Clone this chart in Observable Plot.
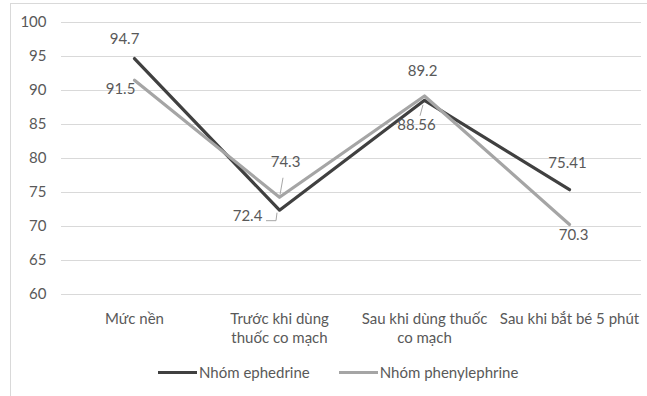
<!DOCTYPE html>
<html>
<head>
<meta charset="utf-8">
<script src="https://cdn.jsdelivr.net/npm/d3@7"></script>
<script src="https://cdn.jsdelivr.net/npm/@observablehq/plot@0.6"></script>
<style>
  html, body { margin: 0; padding: 0; background: #fff; }
  #wrap { position: relative; width: 647px; height: 396px; overflow: hidden; font-family: Lato, "Noto Sans", sans-serif; }
  #frame { position: absolute; left: 10px; top: 3px; right: -2px; bottom: -2px; border-top: 1.5px solid #d9d9d9; border-left: 1.5px solid #d9d9d9; }
  #chart { position: absolute; left: 0; top: 0; }
  #legend { position: absolute; left: 158px; top: 363px; height: 18px; display: flex; align-items: center; font-size: 15px; color: #595959; }
  .sw { width: 39px; height: 3px; margin-right: 2px; }
</style>
</head>
<body>
<div id="wrap">
  <div id="frame"></div>
  <div id="chart"></div>
  <div id="legend"></div>
</div>
<script>
// Data
const categories = ["Mức nền", "Trước khi dùng\nthuốc co mạch", "Sau khi dùng thuốc\nco mạch", "Sau khi bắt bé 5 phút"];
const seriesNames = ["Nhóm ephedrine", "Nhóm phenylephrine"];
const ephedrine = [94.7, 72.4, 88.56, 75.41];
const phenylephrine = [91.5, 74.3, 89.2, 70.3];
const yTicks = [60, 65, 70, 75, 80, 85, 90, 95, 100];

// Layout constants (pixel offsets for data labels)
const colors = ["#404040", "#a5a5a5"];
const labelOffsets = [
  [[-10, -15], [-32, 11], [-8, 30], [-2, -22]],
  [[-14, 14], [6, -30], [-2, -20], [4, 16]]
];

const seriesValues = [ephedrine, phenylephrine];
const rows = [];
seriesValues.forEach((vals, s) => vals.forEach((v, i) => rows.push({series: seriesNames[s], s, i, cat: categories[i], value: v})));

const textColor = "#595959";
const fs = 15;
const plot = Plot.plot({
  width: 647,
  height: 350,
  marginTop: 22,
  marginBottom: 56,
  marginLeft: 61,
  marginRight: 6,
  style: {fontFamily: "Lato, 'Noto Sans', sans-serif", fontSize: fs + "px", color: textColor, background: "transparent"},
  x: {type: "point", domain: categories, padding: 0.5},
  y: {domain: [60, 100]},
  marks: [
    Plot.gridY(yTicks, {stroke: "#d9d9d9", strokeOpacity: 1, strokeWidth: 1}),
    Plot.axisY(yTicks, {tickSize: 0, tickPadding: 15, label: null, fill: textColor, fontSize: fs}),
    Plot.axisX({tickSize: 0, tickPadding: 16, label: null, fill: textColor, fontSize: fs, lineHeight: 1.27}),
    ...[0, 1].map(s => Plot.line(rows.filter(d => d.s === s), {x: "cat", y: "value", stroke: colors[s], strokeWidth: 3.2, strokeLinejoin: "round", strokeLinecap: "round"})),
    Plot.text(rows, {x: "cat", y: "value", text: d => String(d.value), fill: textColor, fontSize: fs})
  ]
});
document.getElementById("chart").appendChild(plot);

// Reposition data labels with per-point offsets
const xs = plot.scale("x"), ys = plot.scale("y");
const svg = d3.select(plot);
svg.selectAll("g[aria-label='text'] text").each(function(_, k) {
  const d = rows[k];
  const [ox, oy] = labelOffsets[d.s][d.i];
  d3.select(this).attr("transform", `translate(${xs.apply(d.cat) + ox},${ys.apply(d.value) + oy})`).attr("x", null).attr("y", null);
});

// Leader lines (label to point)
const leaders = [
  {s: 1, i: 1, pts: [[4, -19], [1, -2]]},
  {s: 0, i: 1, pts: [[-13, 11], [-3, 11], [-2, 3]]},
  {s: 0, i: 2, pts: [[-1, 5], [-4, 16]]}
];
const lg = svg.append("g");
leaders.forEach(l => {
  const d = rows.find(r => r.s === l.s && r.i === l.i);
  const px = xs.apply(d.cat), py = ys.apply(d.value);
  lg.append("polyline")
    .attr("points", l.pts.map(([a, b]) => `${px + a},${py + b}`).join(" "))
    .attr("fill", "none").attr("stroke", "#a6a6a6").attr("stroke-width", 1);
});

// Legend
const legend = d3.select("#legend");
seriesNames.forEach((n, s) => {
  legend.append("div").attr("class", "sw").style("background", colors[s]);
  legend.append("span").text(n).style("margin-right", s === 0 ? "29px" : "0");
});
</script>
</body>
</html>
